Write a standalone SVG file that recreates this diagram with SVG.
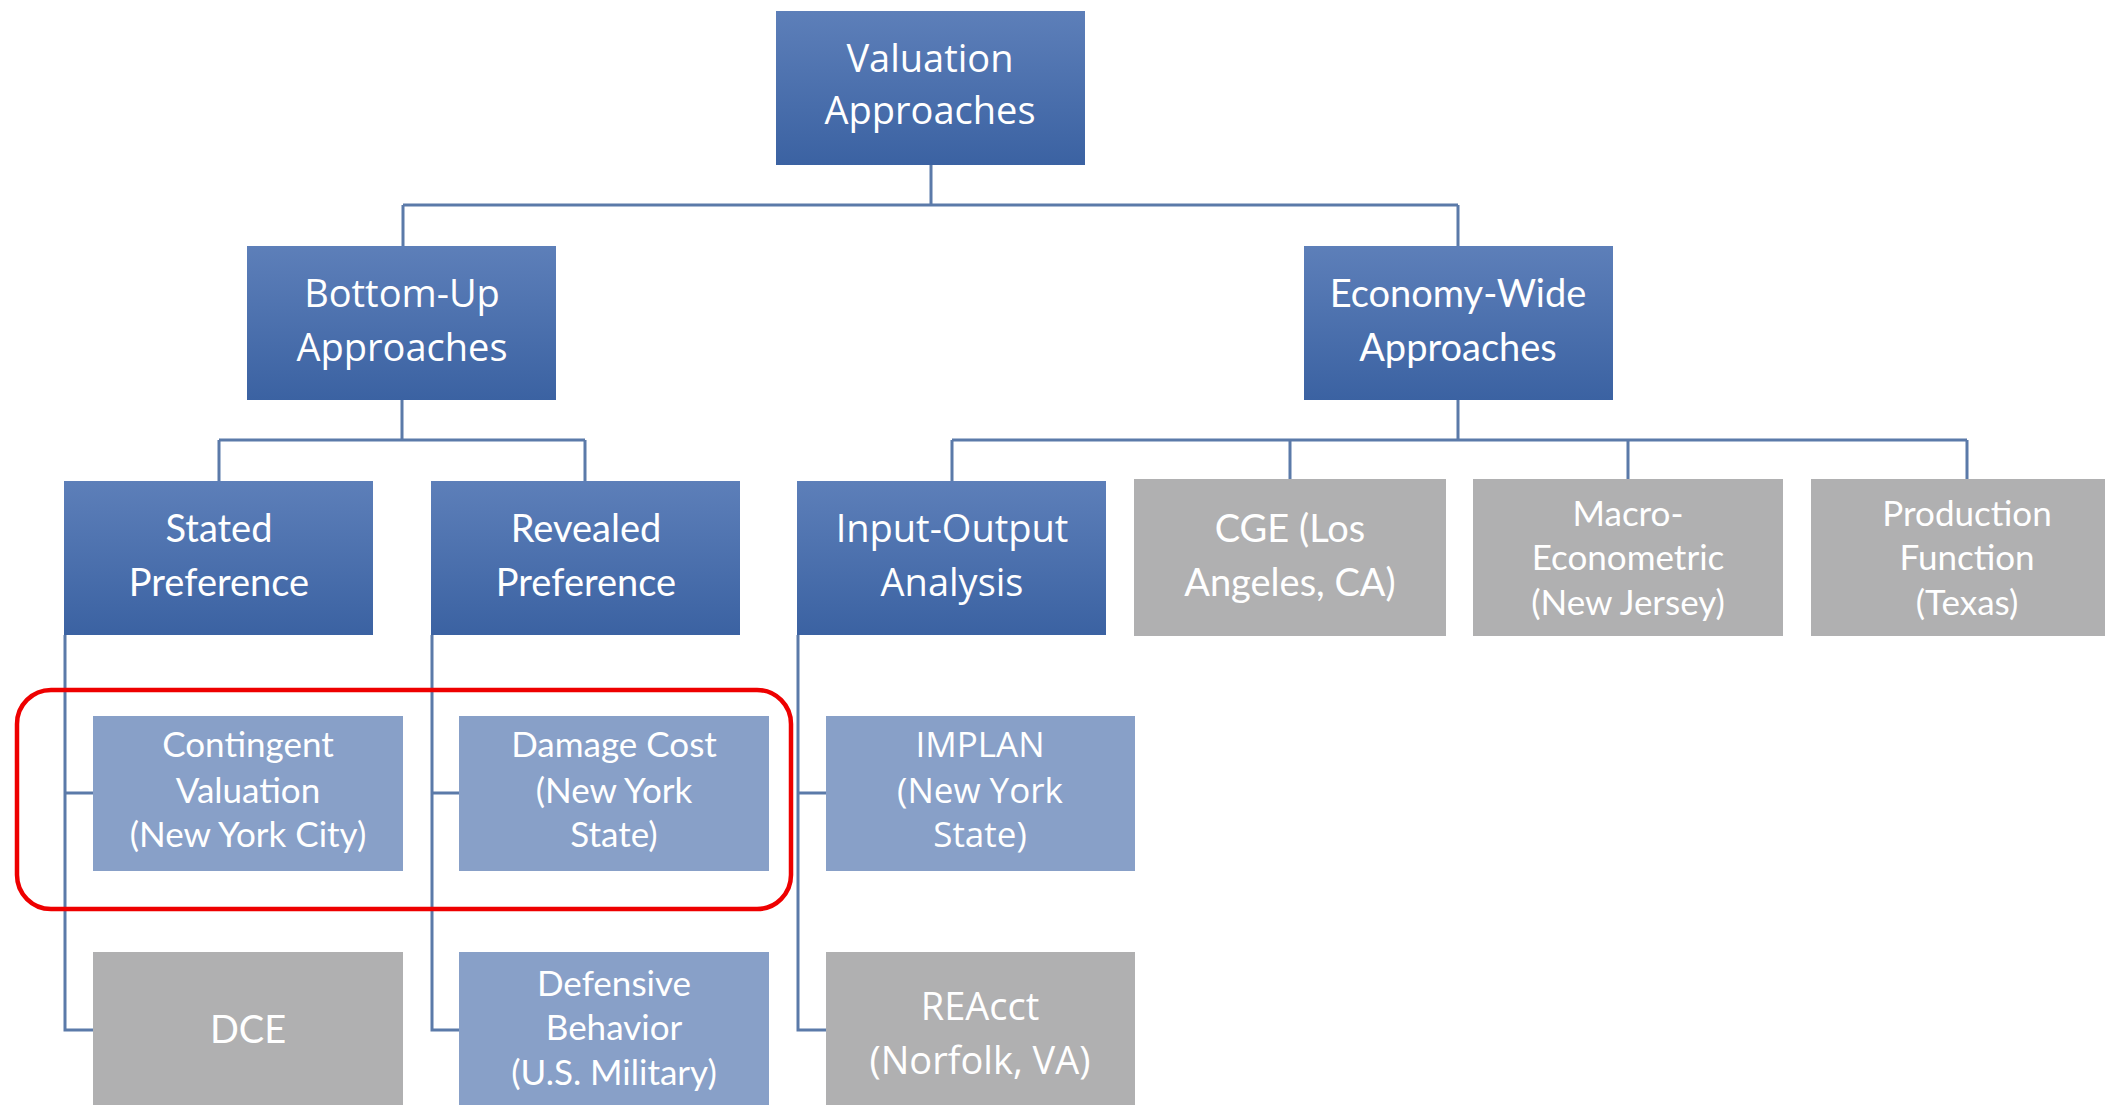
<svg xmlns="http://www.w3.org/2000/svg" width="2105" height="1105" viewBox="0 0 2105 1105">
<defs>
<linearGradient id="gDark" x1="0" y1="0" x2="0" y2="1">
<stop offset="0" stop-color="#5d7fb9"/>
<stop offset="1" stop-color="#3b62a2"/>
</linearGradient>
<style>
.dark{fill:url(#gDark);}
.light{fill:#88a0c8;}
.grey{fill:#b0b0b1;}
.conn{stroke:#5b7aa9;stroke-width:3;fill:none;}
.t{fill:#ffffff;text-anchor:middle;font-size:38px;}
.s{font-size:35px;}
.c{font-family:Lato,"Liberation Sans",sans-serif;}
.w{font-family:"Open Sans","Liberation Sans",sans-serif;}
.hl{fill:none;stroke:#ee0000;stroke-width:4.5;}
</style>
</defs>
<rect width="2105" height="1105" fill="#ffffff"/>
<g id="connectors">
<path class="conn" d="M931 165V205M403 205H1458M403 205V246M1458 205V246"/>
<path class="conn" d="M402 400V440M219 440H585M219 440V481M585 440V481"/>
<path class="conn" d="M1458 400V440M952 440H1967M952 440V481M1290 440V479M1628 440V479M1967 440V479"/>
<path class="conn" d="M65 635V1030H93M65 793H93"/>
<path class="conn" d="M432 635V1030H459M432 793H459"/>
<path class="conn" d="M798 635V1030H826M798 793H826"/>
</g>
<g id="valuation">
<rect class="dark" x="776" y="11" width="309" height="154"/>
<text class="t w" x="930" y="72">Valuation</text>
<text class="t w" x="930" y="124">Approaches</text>
</g>
<g id="bottom-up">
<rect class="dark" x="247" y="246" width="309" height="154"/>
<text class="t w" x="402" y="307">Bottom-Up</text>
<text class="t w" x="402" y="361">Approaches</text>
</g>
<g id="economy-wide">
<rect class="dark" x="1304" y="246" width="309" height="154"/>
<text class="t c" x="1458" y="307">Economy-Wide</text>
<text class="t c" x="1458" y="361">Approaches</text>
</g>
<g id="stated">
<rect class="dark" x="64" y="481" width="309" height="154"/>
<text class="t c" x="219" y="542">Stated</text>
<text class="t c" x="219" y="596">Preference</text>
</g>
<g id="revealed">
<rect class="dark" x="431" y="481" width="309" height="154"/>
<text class="t c" x="586" y="542">Revealed</text>
<text class="t c" x="586" y="596">Preference</text>
</g>
<g id="input-output">
<rect class="dark" x="797" y="481" width="309" height="154"/>
<text class="t w" x="952" y="542">Input-Output</text>
<text class="t w" x="952" y="596">Analysis</text>
</g>
<g id="cge">
<rect class="grey" x="1134" y="479" width="312" height="157"/>
<text class="t c" x="1290" y="542">CGE (Los</text>
<text class="t c" x="1290" y="596">Angeles, CA)</text>
</g>
<g id="macro">
<rect class="grey" x="1473" y="479" width="310" height="157"/>
<text class="t c s" x="1628" y="526">Macro-</text>
<text class="t c s" x="1628" y="570">Econometric</text>
<text class="t c s" x="1628" y="615">(New Jersey)</text>
</g>
<g id="production">
<rect class="grey" x="1811" y="479" width="310" height="157"/>
<text class="t c s" x="1967" y="526">Production</text>
<text class="t c s" x="1967" y="570">Function</text>
<text class="t c s" x="1967" y="615">(Texas)</text>
</g>
<g id="contingent">
<rect class="light" x="93" y="716" width="310" height="155"/>
<text class="t c s" x="248" y="757">Contingent</text>
<text class="t c s" x="248" y="803">Valuation</text>
<text class="t c s" x="248" y="847">(New York City)</text>
</g>
<g id="damage">
<rect class="light" x="459" y="716" width="310" height="155"/>
<text class="t c s" x="614" y="757">Damage Cost</text>
<text class="t c s" x="614" y="803">(New York</text>
<text class="t c s" x="614" y="847">State)</text>
</g>
<g id="implan">
<rect class="light" x="826" y="716" width="309" height="155"/>
<text class="t w s" x="980" y="757">IMPLAN</text>
<text class="t w s" x="980" y="803">(New York</text>
<text class="t w s" x="980" y="847">State)</text>
</g>
<g id="dce">
<rect class="grey" x="93" y="952" width="310" height="160"/>
<text class="t c" x="248" y="1043">DCE</text>
</g>
<g id="defensive">
<rect class="light" x="459" y="952" width="310" height="160"/>
<text class="t c s" x="614" y="996">Defensive</text>
<text class="t c s" x="614" y="1040">Behavior</text>
<text class="t c s" x="614" y="1085">(U.S. Military)</text>
</g>
<g id="reacct">
<rect class="grey" x="826" y="952" width="309" height="160"/>
<text class="t w" x="980" y="1020">REAcct</text>
<text class="t w" x="980" y="1074">(Norfolk, VA)</text>
</g>
<rect id="highlight" class="hl" x="17" y="690" width="774" height="219" rx="34" ry="34"/>
</svg>
